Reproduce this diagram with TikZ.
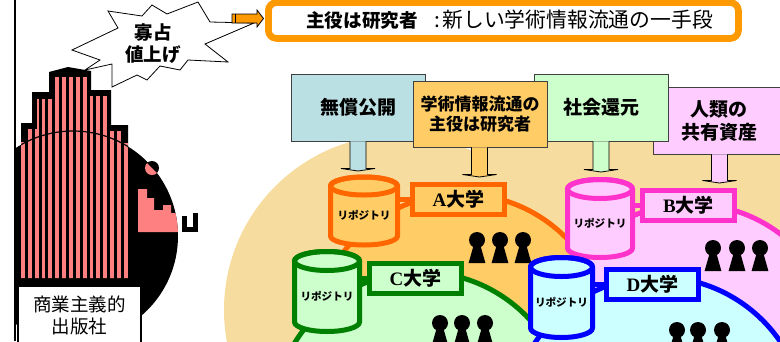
\documentclass[tikz,border=0pt]{standalone}
\usepackage{fontspec}
\newfontfamily\jp{Noto Sans CJK JP}
\newfontfamily\latb{Liberation Serif}
\usetikzlibrary{calc}

\definecolor{hdrorange}{HTML}{FF9900}
\definecolor{tanbg}{HTML}{F6DC9E}
\definecolor{aline}{HTML}{FF6600}
\definecolor{afill}{HTML}{FFCC66}
\definecolor{bline}{HTML}{FF33CC}
\definecolor{bfill}{HTML}{FFCCFF}
\definecolor{cline}{HTML}{008000}
\definecolor{cfill}{HTML}{CCFFCC}
\definecolor{dline}{HTML}{0000FF}
\definecolor{dfill}{HTML}{CCFFFF}
\definecolor{salmon}{HTML}{FF8080}
\definecolor{signblue}{HTML}{BBE0E3}
\definecolor{signedge}{HTML}{404040}

\tikzset{
  signbox/.style={draw=signedge, line width=0.8pt, minimum width=134pt, minimum height=67pt,
    inner sep=0pt, align=center, font=\jp\bfseries\fontsize{19}{23}\selectfont},
  unilabel/.style={line width=5pt, minimum width=92pt, minimum height=30pt, inner sep=0pt,
    font=\fontsize{19}{21}\selectfont},
  repolabel/.style={inner sep=0pt, font=\jp\bfseries\fontsize{10.6}{12}\selectfont},
  region/.style={line width=5pt},
  stemshape/.style={draw=black, line width=0.8pt},
  pics/person/.style={code={
    \fill[black] (0,0) circle[radius=8];
    \fill[black] (-3.3,5) -- (3.3,5) -- (8.4,23) -- (-8.4,23) -- cycle;}},
}

% university name: serif capital + gothic kanji
\newcommand\unitext[1]{{\latb\bfseries #1}{\jp\bfseries 大学}}

% repository cylinder: name, cx, top centre y, bottom centre y, rx, ry, line, fill
\newcommand\drawrepo[8]{%
  \pgfmathsetmacro\rpL{#2-#5}%
  \pgfmathsetmacro\rpR{#2+#5}%
  \pgfmathsetmacro\rpKx{0.5523*#5}%
  \pgfmathsetmacro\rpKy{0.5523*#6}%
  \pgfmathsetmacro\rpTop{#3-#6}%
  \pgfmathsetmacro\rpBot{#4+#6}%
  \pgfmathsetmacro\rpMid{(#3+#4)/2+#6/2}%
  \pgfmathsetmacro\rpH{#4-#3}%
  \pgfmathsetmacro\rpW{2*#5}%
  \filldraw[line width=5pt, draw=#7, fill=#8]
    (\rpL,#3) -- (\rpL,#4) .. controls +(0,\rpKy) and +(-\rpKx,0) .. (#2,\rpBot)
    .. controls +(\rpKx,0) and +(0,\rpKy) .. (\rpR,#4) -- (\rpR,#3)
    .. controls +(0,-\rpKy) and +(\rpKx,0) .. (#2,\rpTop)
    .. controls +(-\rpKx,0) and +(0,-\rpKy) .. (\rpL,#3) -- cycle;
  \draw[line width=5pt, draw=#7] (#2,#3) ellipse[x radius=#5, y radius=#6];
  \node[repolabel, minimum width=\rpW pt, minimum height=\rpH pt] (#1) at (#2,\rpMid) {リポジトリ};
}

% signpost stem with a flat pointer: sign node, centre x, bottom y, fill
\newcommand\signstem[4]{%
  \pgfmathsetmacro\stL{#2-8}%
  \pgfmathsetmacro\stR{#2+8}%
  \pgfmathsetmacro\stWL{#2-17}%
  \pgfmathsetmacro\stWR{#2+17}%
  \pgfmathsetmacro\stY{#3-2.5}%
  \filldraw[stemshape, fill=#4] (\stL,0 |- #1.south) -- (\stL,\stY) -- (\stWL,\stY) -- (#2,#3)
    -- (\stWR,\stY) -- (\stR,\stY) -- (\stR,0 |- #1.south);
}

\begin{document}
\begin{tikzpicture}[x=1pt, y=-1pt]
\useasboundingbox (0,0) rectangle (780,341);
\clip (0,0) rectangle (780,341);

% cream backdrop behind the universities
\fill[tanbg] (399,310) circle[radius=175];
\fill[tanbg] (620,420) ellipse[x radius=400, y radius=290];

% ---- A university
\filldraw[region, draw=aline, fill=afill] (461,342) circle[radius=148];
\drawrepo{repoA}{364}{186}{236}{33.5}{9}{aline}{afill}
\node[unilabel, draw=aline, fill=afill] (labA) at (458.5,199.5) {\unitext{A}};
\draw[line width=5pt, aline] (repoA.east |- labA.west) -- (labA.west);
\foreach \px in {477,500,523} \pic at (\px,240) {person};

% ---- B university
\filldraw[region, draw=bline, fill=bfill] (691,352) circle[radius=148];
\drawrepo{repoB}{600}{189}{248}{32.5}{9.5}{bline}{bfill}
\node[unilabel, draw=bline, fill=bfill] (labB) at (688.5,205) {\unitext{B}};
\draw[line width=5pt, bline] (repoB.east |- labB.west) -- (labB.west);
\foreach \px in {713,737,760} \pic at (\px,248) {person};

% ---- C university
\filldraw[region, draw=cline, fill=cfill] (421,420) circle[radius=148];
\drawrepo{repoC}{327}{261}{322}{32.5}{9.5}{cline}{cfill}
\node[unilabel, draw=cline, fill=cfill] (labC) at (415.5,278.5) {\unitext{C}};
\draw[line width=5pt, cline] (repoC.east |- labC.west) -- (labC.west);
\foreach \px in {440,462,485} \pic at (\px,323) {person};

% ---- D university
\filldraw[region, draw=dline, fill=dfill] (658,425) circle[radius=148];
\drawrepo{repoD}{561.5}{267}{328}{31}{9.5}{dline}{dfill}
\node[unilabel, draw=dline, fill=dfill] (labD) at (652.5,284.5) {\unitext{D}};
\draw[line width=5pt, dline] (repoD.east |- labD.west) -- (labD.west);
\foreach \px in {677,698,722} \pic at (\px,330) {person};

% ---- signposts
\node[signbox, fill=bfill, minimum width=132pt] (share) at (719,120.5) {人類の\\共有資産};
\signstem{share}{719.5}{183}{bfill}

\node[signbox, fill=signblue] (free) at (358,107.5) {無償公開};
\signstem{free}{358}{171}{signblue}

\node[signbox, fill=cfill] (society) at (601,107.5) {社会還元};
\signstem{society}{601}{172}{cfill}

\node[signbox, fill=afill, minimum height=66pt, font=\jp\bfseries\fontsize{17}{20}\selectfont]
  (actor) at (480,114) {学術情報流通の\\主役は研究者};
\signstem{actor}{479.5}{177}{afill}

% ---- publisher building
\begin{scope}
  \clip (15,0) rectangle (780,341);
  \fill[black] (73,236) circle[radius=105];
\end{scope}
\fill[black] (21,285) -- (21,123) -- (32,123) -- (32,92) -- (49,92) -- (49,72) -- (68,67)
  -- (91,71) -- (91,90) -- (111,90) -- (111,125) -- (128,125) -- (128,285) -- cycle;
\begin{scope}
  \clip (21,278) -- (21,142) -- (27,142) -- (27,129) -- (37,129) -- (37,99) -- (53,99)
    -- (53,77) -- (88,77) -- (88,96) -- (107,96) -- (107,131) -- (122,131) -- (122,143)
    -- (128,143) -- (128,278) -- cycle;
  \foreach \i in {0,...,15} \fill[salmon] ({21+6.85*\i},60) rectangle ++(3.9,230);
  \draw[black, line width=1.2pt] (73,236) circle[radius=105];
\end{scope}
\begin{scope}
  \clip (73,236) circle[radius=105];
  \fill[salmon] (138,189) -- (147,189) -- (147,198) -- (154,198) -- (154,210) -- (163,210)
    -- (163,205) -- (171,205) -- (171,213) -- (178,213) -- (178,232) -- (138,232) -- cycle;
\end{scope}
\fill[black] (182,216) rectangle (187,232);
\fill[black] (182,227) rectangle (198,232);
\fill[black] (193,213) rectangle (198,232);
\fill[black] (152,168) circle[radius=7];
\begin{scope}
  \clip (144,160) -- (160,176) -- (144,176) -- cycle;
  \fill[salmon] (152,168) circle[radius=7];
\end{scope}
\node[draw=black, line width=2pt, fill=white, minimum width=123pt, minimum height=59pt,
  inner sep=0pt, align=center, font=\jp\fontsize{18.5}{22}\selectfont]
  (publisher) at (79.5,315.5) {商業主義的\\出版社};
\draw[black, line width=2pt] (15,0) -- (15,341);

% ---- exclamation burst
\filldraw[fill=white, draw=black, line width=0.8pt]
  (108,11) -- (118,28) -- (72,50) -- (100,60) -- (85,70) -- (112,64) -- (112,87)
  -- (137,75) -- (147,80) -- (160,66) -- (180,70) -- (188,60) -- (228,62) -- (205,44)
  -- (254,23) -- (210,22) -- (198,2) -- (167,14) -- (152,5) -- (142,16) -- cycle;
\node[align=center, inner sep=0pt, font=\jp\bfseries\fontsize{18.5}{22}\selectfont] (burst) at (153,44) {寡占\\値上げ};

% ---- headline
\node[draw=hdrorange, line width=6.7pt, fill=white, rounded corners=8pt,
  minimum width=470pt, minimum height=35.8pt, inner sep=0pt] (header) at (503.4,20.5) {};
\node[anchor=west, inner sep=0pt, font=\jp] (headtext) at (306,20)
  {{\bfseries\fontsize{18.6}{20}\selectfont 主役は研究者}\hspace{17pt}{\fontsize{20.8}{22}\selectfont :\hspace{2pt}新しい学術情報流通の一手段}};
\filldraw[fill=hdrorange, draw=black, line width=0.8pt]
  (232,14) -- (257,14) -- (257,10) -- (263.5,18.5) -- (257,27) -- (257,23) -- (232,23) -- cycle;
\draw[black, line width=0.8pt] (235.5,14) -- (235.5,23);
\end{tikzpicture}
\end{document}
